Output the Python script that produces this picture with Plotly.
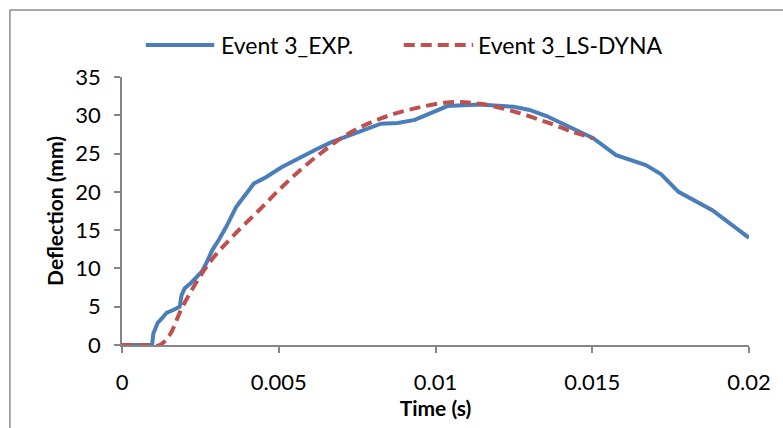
import plotly.graph_objects as go

# Experimental data (Event 3_EXP.)
exp_t = [0.0, 0.0005, 0.00096, 0.00100, 0.00114, 0.00130, 0.00142, 0.00165, 0.00184, 0.00190, 0.00200, 0.00220, 0.00237,
         0.00255, 0.00269, 0.00288, 0.00310, 0.00332, 0.00364, 0.00396, 0.00421, 0.00440, 0.00459, 0.00509, 0.00563,
         0.00617, 0.00668, 0.00722, 0.00780, 0.00826, 0.0088, 0.00934, 0.01038, 0.01142, 0.0125,
         0.01300, 0.01354, 0.01459, 0.01503, 0.01576, 0.01671, 0.01720, 0.01775, 0.01883, 0.0200]
exp_d = [0.0, 0.0, 0.0, 1.5, 2.9, 3.6, 4.2, 4.6, 5.0, 6.5, 7.4, 8.1, 8.9,
         9.6, 10.7, 12.4, 13.8, 15.4, 18.0, 19.8, 21.1, 21.5, 21.9, 23.2, 24.4,
         25.5, 26.5, 27.3, 28.2, 28.9, 29.0, 29.4, 31.2, 31.4, 31.1,
         30.7, 29.9, 27.9, 27.0, 24.8, 23.5, 22.3, 20.0, 17.6, 14.0]

# Simulation data (Event 3_LS-DYNA)
sim_t = [0.0, 0.0006, 0.0012, 0.00152, 0.00193, 0.00278, 0.00351, 0.00437, 0.00522,
         0.00617, 0.00722, 0.00826, 0.00934, 0.01047, 0.01142, 0.0125, 0.01354, 0.0144, 0.01503]
sim_d = [0.0, 0.0, 0.0, 1.3, 5.0, 10.7, 14.1, 17.6, 21.1,
         24.5, 27.6, 29.6, 30.9, 31.7, 31.5, 30.5, 29.1, 27.8, 27.0]

series_names = ["Event 3_EXP.", "Event 3_LS-DYNA"]
x_ticks = [0, 0.005, 0.01, 0.015, 0.02]
x_tick_labels = ["0", "0.005", "0.01", "0.015", "0.02"]
y_ticks = [0, 5, 10, 15, 20, 25, 30, 35]

FONT = "Lato, Liberation Sans, sans-serif"
BLUE = "#4a7ebb"
RED = "#c0504d"

# plot area in pixels (for placing frame / legend in paper coordinates)
PL, PR, PT, PB = 122, 754, 77, 345
def px(x):
    return (x - PL) / (PR - PL)
def py(y):
    return (PB - y) / (PB - PT)

fig = go.Figure()
fig.add_trace(go.Scatter(x=exp_t, y=exp_d, mode="lines", name=series_names[0],
                         line=dict(color=BLUE, width=4), showlegend=False))
fig.add_trace(go.Scatter(x=sim_t, y=sim_d, mode="lines", name=series_names[1],
                         line=dict(color=RED, width=4, dash="11px,6px", shape="spline"),
                         showlegend=False))

axis_common = dict(showgrid=False, zeroline=False, showline=True, linecolor="#868686",
                   linewidth=1.5, ticks="outside", ticklen=6, tickcolor="#868686",
                   tickwidth=1.5, tickfont=dict(family=FONT, size=22, color="#000"))

legend_y = py(45)
shapes = [
    dict(type="line", xref="paper", yref="paper", x0=px(9), x1=1.2,
         y0=py(10), y1=py(10), line=dict(color="#8c8c8c", width=1.5)),
    dict(type="line", xref="paper", yref="paper", x0=px(9), x1=px(9),
         y0=py(10), y1=-0.5, line=dict(color="#8c8c8c", width=1.5)),
    dict(type="line", xref="paper", yref="paper", x0=px(146), x1=px(215),
         y0=legend_y, y1=legend_y, line=dict(color=BLUE, width=4)),
    dict(type="line", xref="paper", yref="paper", x0=px(406), x1=px(476),
         y0=legend_y, y1=legend_y, line=dict(color=RED, width=4, dash="11px,6px")),
]
annotations = [
    dict(xref="paper", yref="paper", x=px(220), y=legend_y, text=series_names[0],
         showarrow=False, xanchor="left", yanchor="middle",
         font=dict(family=FONT, size=23, color="#000")),
    dict(xref="paper", yref="paper", x=px(479), y=legend_y, text=series_names[1],
         showarrow=False, xanchor="left", yanchor="middle",
         font=dict(family=FONT, size=23, color="#000")),
]

fig.update_layout(
    width=783, height=428,
    margin=dict(l=PL, r=783 - PR, t=PT, b=428 - PB),
    paper_bgcolor="white", plot_bgcolor="white",
    font=dict(family=FONT, color="#000"),
    xaxis=dict(range=[0, 0.02], tickvals=x_ticks, ticktext=x_tick_labels,
               ticklabelstandoff=11,
               title=dict(text="<b>Time (s)</b>", font=dict(family=FONT, size=21), standoff=4),
               **axis_common),
    yaxis=dict(range=[0, 35], tickvals=y_ticks, ticklabelstandoff=9,
               title=dict(text="<b>Deflection (mm)</b>", font=dict(family=FONT, size=21), standoff=6),
               **axis_common),
    shapes=shapes,
    annotations=annotations,
    showlegend=False,
)

fig.write_html("out.html")
